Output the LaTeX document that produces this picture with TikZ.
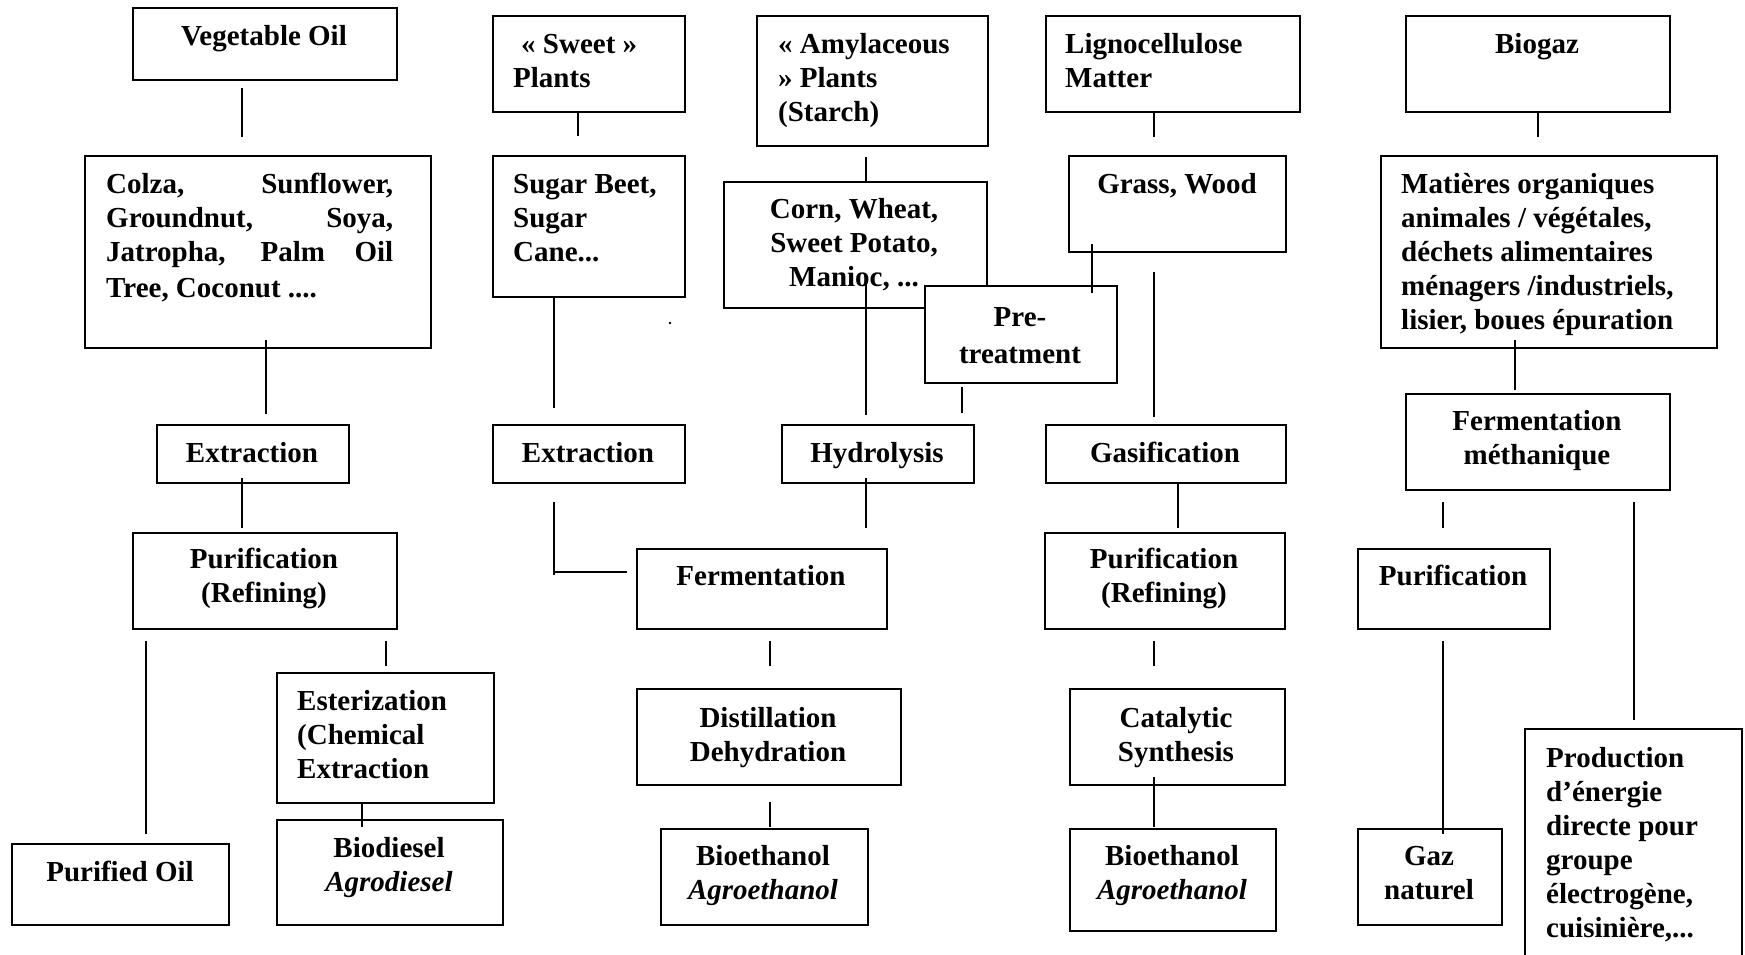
\documentclass[tikz,border=0pt]{standalone}
\usepackage{fontspec}
\setmainfont{Liberation Serif}
\newcommand{\mylines}[2]{\begin{tabular}[t]{@{}#1@{}}#2\end{tabular}}
\tikzset{
  box/.style={draw, line width=2pt, inner sep=0pt, rectangle, fill=white, anchor=north west},
  conn/.style={line width=1.4pt},
  txt/.style={inner sep=0pt, font=\fontsize{29}{34}\selectfont\bfseries},
  lt/.style={txt, anchor=base west},
  ct/.style={txt, anchor=base},
}
\begin{document}
\begin{tikzpicture}[x=1pt,y=-1pt]
\clip (0,0) rectangle (1745,954);
\fill[white] (0,0) rectangle (1745,954);
% top row
\node[box, minimum width=264pt, minimum height=72pt] (veg) at (132,7) {};
\node[box, minimum width=192pt, minimum height=96pt] (sweet) at (492,15) {};
\node[box, minimum width=231pt, minimum height=130pt] (amyl) at (756,15) {};
\node[box, minimum width=254pt, minimum height=96pt] (ligno) at (1045,15) {};
\node[box, minimum width=264pt, minimum height=96pt] (biogaz) at (1405,15) {};
% second row
\node[box, minimum width=346pt, minimum height=192pt] (colza) at (84,155) {};
\node[box, minimum width=192pt, minimum height=141pt] (sugar) at (492,155) {};
\node[box, minimum width=263pt, minimum height=126pt] (corn) at (723,181) {};
\node[ct] (cornT) at (854,218) {\mylines{c}{Corn, Wheat,\\Sweet Potato,\\Manioc, ...}};
\node[box, minimum width=217pt, minimum height=96pt] (grass) at (1068,155) {};
\node[box, minimum width=336pt, minimum height=192pt] (matieres) at (1380,155) {};
\node[box, minimum width=192pt, minimum height=97pt] (pretreat) at (924,285) {};
% process row
\node[box, minimum width=192pt, minimum height=58pt] (ext1) at (156,424) {};
\node[box, minimum width=192pt, minimum height=58pt] (ext2) at (492,424) {};
\node[box, minimum width=192pt, minimum height=58pt] (hydro) at (781,424) {};
\node[box, minimum width=240pt, minimum height=58pt] (gasif) at (1045,424) {};
\node[box, minimum width=264pt, minimum height=96pt] (fermeth) at (1405,393) {};
\node[box, minimum width=264pt, minimum height=96pt] (purif1) at (132,532) {};
\node[box, minimum width=250pt, minimum height=80pt] (ferm) at (636,548) {};
\node[box, minimum width=240pt, minimum height=96pt] (purif2) at (1044,532) {};
\node[box, minimum width=192pt, minimum height=80pt] (purif3) at (1357,548) {};
\node[box, minimum width=217pt, minimum height=130pt] (ester) at (276,672) {};
\node[box, minimum width=264pt, minimum height=96pt] (distill) at (636,688) {};
\node[box, minimum width=215pt, minimum height=96pt] (catal) at (1069,688) {};
% products
\node[box, minimum width=217pt, minimum height=81pt] (poil) at (11,843) {};
\node[box, minimum width=226pt, minimum height=105pt] (biod) at (276,819) {};
\node[box, minimum width=207pt, minimum height=96pt] (bioeth1) at (660,828) {};
\node[box, minimum width=206pt, minimum height=102pt] (bioeth2) at (1069,828) {};
\node[box, minimum width=144pt, minimum height=96pt] (gaz) at (1357,828) {};
\node[box, minimum width=217pt, minimum height=250pt] (prod) at (1524,728) {};
% texts
\node[ct] (vegT) at (264,45) {Vegetable Oil};
\node[lt] (sweetT) at (513,53) {\mylines{l}{\hspace{8pt}« Sweet »\\Plants}};
\node[lt] (amylT) at (778,53) {\mylines{l}{« Amylaceous\\» Plants\\(Starch)}};
\node[lt] (lignoT) at (1065,53) {\mylines{l}{Lignocellulose\\Matter}};
\node[ct] (biogazT) at (1537,53) {Biogaz};
\node[lt] (colzaT) at (106,193) {\mylines{l}{\makebox[287pt][s]{Colza, Sunflower,}\\\makebox[287pt][s]{Groundnut, Soya,}\\\makebox[287pt][s]{Jatropha, Palm Oil}\\[2pt]Tree, Coconut ....}};
\node[lt] (sugarT) at (513,193) {\mylines{l}{Sugar Beet,\\Sugar\\Cane...}};
\node[ct] (grassT) at (1177,193) {Grass, Wood};
\node[lt] (matieresT) at (1401,193) {\mylines{l}{Matières organiques\\animales / végétales,\\déchets alimentaires\\ménagers /industriels,\\lisier, boues épuration}};
\node[ct] (pretreatT) at (1020,326) {\mylines{c}{Pre-\\[3pt]treatment}};
\node[ct] (ext1T) at (252,462) {Extraction};
\node[ct] (ext2T) at (588,462) {Extraction};
\node[ct] (hydroT) at (877,462) {Hydrolysis};
\node[ct] (gasifT) at (1165,462) {Gasification};
\node[ct] (fermethT) at (1537,430) {\mylines{c}{Fermentation\\méthanique}};
\node[ct] (purif1T) at (264,568) {\mylines{c}{Purification\\(Refining)}};
\node[ct] (fermT) at (761,585) {Fermentation};
\node[ct] (purif2T) at (1164,568) {\mylines{c}{Purification\\(Refining)}};
\node[ct] (purif3T) at (1453,585) {Purification};
\node[lt] (esterT) at (297,710) {\mylines{l}{Esterization\\(Chemical\\Extraction}};
\node[ct] (distillT) at (768,727) {\mylines{c}{Distillation\\Dehydration}};
\node[ct] (catalT) at (1176,727) {\mylines{c}{Catalytic\\Synthesis}};
\node[ct] (poilT) at (120,881) {Purified Oil};
\node[ct] (biodT) at (389,857) {\mylines{c}{Biodiesel\\\itshape Agrodiesel}};
\node[ct] (bioeth1T) at (763,865) {\mylines{c}{Bioethanol\\\itshape Agroethanol}};
\node[ct] (bioeth2T) at (1172,865) {\mylines{c}{Bioethanol\\\itshape Agroethanol}};
\node[ct] (gazT) at (1429,865) {\mylines{c}{Gaz\\naturel}};
\node[lt] (prodT) at (1546,767) {\mylines{l}{Production\\d’énergie\\directe pour\\groupe\\électrogène,\\cuisinière,...}};
\fill (670,323) circle (1.3pt);
% connector end points
\coordinate (c1a) at (242,88);   \coordinate (c1b) at (242,137);
\coordinate (c2a) at (578,111);  \coordinate (c2b) at (578,136);
\coordinate (c3a) at (866,157);  \coordinate (c3b) at (866,183);
\coordinate (c4a) at (1154,111); \coordinate (c4b) at (1154,137);
\coordinate (c5a) at (1538,111); \coordinate (c5b) at (1538,137);
\coordinate (c6a) at (266,340);  \coordinate (c6b) at (266,414);
\coordinate (c7a) at (554,296);  \coordinate (c7b) at (554,408);
\coordinate (c8a) at (866,278);  \coordinate (c8b) at (866,415);
\coordinate (c9a) at (1092,244); \coordinate (c9b) at (1092,293);
\coordinate (c10a) at (962,387); \coordinate (c10b) at (962,413);
\coordinate (c11a) at (1154,272);\coordinate (c11b) at (1154,417);
\coordinate (c12a) at (1515,340);\coordinate (c12b) at (1515,390);
\coordinate (c13a) at (242,478); \coordinate (c13b) at (242,528);
\coordinate (c14a) at (554,502); \coordinate (c14b) at (554,575); \coordinate (c14c) at (627,572);
\coordinate (c15a) at (866,478); \coordinate (c15b) at (866,528);
\coordinate (c16a) at (1178,482);\coordinate (c16b) at (1178,528);
\coordinate (c17a) at (1443,502);\coordinate (c17b) at (1443,528);
\coordinate (c18a) at (1634,502);\coordinate (c18b) at (1634,720);
\coordinate (c19a) at (146,641); \coordinate (c19b) at (146,834);
\coordinate (c20a) at (386,641); \coordinate (c20b) at (386,666);
\coordinate (c21a) at (770,641); \coordinate (c21b) at (770,666);
\coordinate (c22a) at (1154,641);\coordinate (c22b) at (1154,666);
\coordinate (c23a) at (1443,641);\coordinate (c23b) at (1443,834);
\coordinate (c24a) at (362,802); \coordinate (c24b) at (362,827);
\coordinate (c25a) at (770,802); \coordinate (c25b) at (770,827);
\coordinate (c26a) at (1154,777);\coordinate (c26b) at (1154,827);
\foreach \c in {1,...,13,15,16,...,26}{\draw[conn] (c\c a) -- (c\c b);}
\draw[conn] (c14a) -- (c14b) (c14b |- c14c) -- (c14c);
\end{tikzpicture}
\end{document}
